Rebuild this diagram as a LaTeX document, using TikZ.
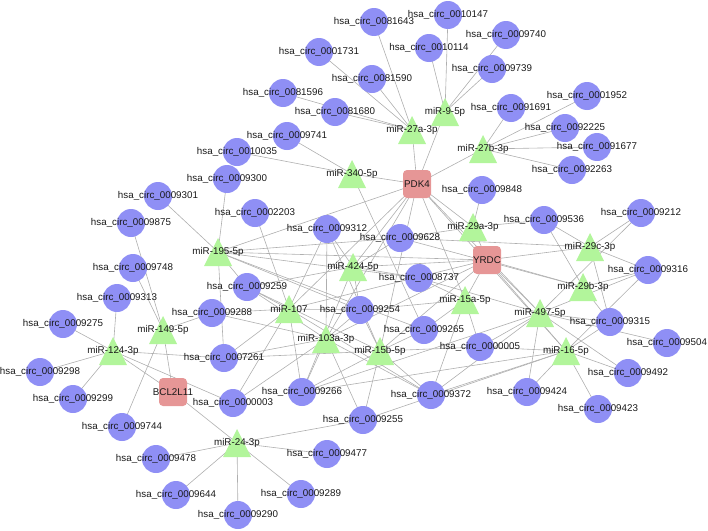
\documentclass[tikz,border=0pt]{standalone}
\usepackage{fontspec}
\setmainfont{Liberation Sans}
\pgfdeclarelayer{bg}
\pgfsetlayers{bg,main}
\definecolor{circfill}{RGB}{143,143,245}
\definecolor{mirfill}{RGB}{178,245,155}
\definecolor{genefill}{RGB}{230,150,150}
\definecolor{edgecol}{RGB}{175,175,175}
\newcommand\labfont{\fontsize{9.8}{11}\selectfont}
\tikzset{
  circ/.style={circle, fill=circfill, minimum size=28, inner sep=0pt},
  gene/.style={rectangle, rounded corners=4pt, fill=genefill, minimum size=28, inner sep=0pt},
  mirtri/.style={fill=mirfill},
  lab/.style={font=\labfont, text=black!90, inner sep=0pt},
  edge/.style={draw=edgecol, line width=0.6pt},
}
\begin{document}
\begin{tikzpicture}[x=1pt,y=-1pt]
\useasboundingbox (0,0) rectangle (708,530);
% circRNA shapes
\foreach \n/\x/\y in {
0010147/448/15, 0081643/374/22, 0010114/429/48, 0009740/506/35, 0001731/319/52,
0081590/372/79, 0009739/492/69, 0081596/283/93, 0081680/335/112, 0001952/587/96,
0091691/511/108, 0092225/565/128, 0091677/597/147, 0092263/572/170, 0009741/287/136,
0010035/237/152, 0009300/227/179, 0009301/158/196, 0009875/131/223, 0002203/255/213,
0009312/327/229, 0009628/400/238, 0009848/482/190, 0009536/544/220, 0009212/641/213,
0009748/133/268, 0009313/117/298, 0009275/63/324, 0009259/247/287, 0009288/212/313,
0008737/419/278, 0009254/360/310, 0009265/424/330, 0009316/648/270, 0009315/610/322,
0009504/667/343, 0007261/224/358, 0000005/480/347, 0009298/40/372, 0009299/73/399,
0009266/302/392, 0009372/431/395, 0009424/527/392, 0009492/628/373, 0009423/598/409,
0000003/233/403, 0009744/122/427, 0009255/363/420, 0009478/156/459, 0009477/327/454,
0009644/176/495, 0009289/301/494, 0009290/238/515}
{ \node[circ] (c\n) at (\x,\y) {}; }
% miRNA shapes
\foreach \n/\x/\y in {
m27a/412/130, m9/445/112, m27b/483/149, m340/352/174, m29a/473/227, m195/218/252,
m424/353/267, m29c/590/247, m29b/583/287, m15a/465/300, m107/289/309, m497/540/313,
m103/326/339, m15b/380/351, m149/163/330, m124/113/351, m16/566/351, m24/237/443}
{ \fill[mirtri, shift={(\x,\y)}] (0,-14) -- (14,14) -- (-14,14) -- cycle;
  \node[coordinate] (\n) at (\x,\y) {}; }
% gene shapes
\node[gene] (PDK4) at (417,184) {};
\node[gene] (YRDC) at (487,260) {};
\node[gene] (BCL2L11) at (173,392) {};
% circRNA labels
\foreach \n/\x/\y in {
0010147/448/15, 0081643/374/22, 0010114/429/48, 0009740/506/35, 0001731/319/52,
0081590/372/79, 0009739/492/69, 0081596/283/93, 0081680/335/112, 0001952/587/96,
0091691/511/108, 0092225/565/128, 0091677/597/147, 0092263/572/170, 0009741/287/136,
0010035/237/152, 0009300/227/179, 0009301/158/196, 0009875/131/223, 0002203/255/213,
0009312/327/229, 0009628/400/238, 0009848/482/190, 0009536/544/220, 0009212/641/213,
0009748/133/268, 0009313/117/298, 0009275/63/324, 0009259/247/287, 0009288/212/313,
0008737/419/278, 0009254/360/310, 0009265/424/330, 0009316/648/270, 0009315/610/322,
0009504/667/343, 0007261/224/358, 0000005/480/347, 0009298/40/372, 0009299/73/399,
0009266/302/392, 0009372/431/395, 0009424/527/392, 0009492/628/373, 0009423/598/409,
0000003/233/403, 0009744/122/427, 0009255/363/420, 0009478/156/459, 0009477/327/454,
0009644/176/495, 0009289/301/494, 0009290/238/515}
{ \node[lab] (t\n) at (\x,\y) {hsa\_circ\_\n}; }
% miRNA labels
\foreach \n/\x/\y/\t in {
m27a/412/130/miR-27a-3p, m9/445/112/miR-9-5p, m27b/483/149/miR-27b-3p,
m340/352/174/miR-340-5p, m29a/473/227/miR-29a-3p, m195/218/252/miR-195-5p,
m424/353/267/miR-424-5p, m29c/590/247/miR-29c-3p, m29b/583/287/miR-29b-3p,
m15a/465/300/miR-15a-5p, m107/289/309/miR-107, m497/540/313/miR-497-5p,
m103/326/339/miR-103a-3p, m15b/380/351/miR-15b-5p, m149/163/330/miR-149-5p,
m124/113/351/miR-124-3p, m16/566/351/miR-16-5p, m24/237/443/miR-24-3p}
{ \node[lab] (t\n) at (\x,\y) {\t}; }
% gene labels
\node[lab] (tPDK4) at (PDK4) {PDK4};
\node[lab] (tYRDC) at (YRDC) {YRDC};
\node[lab] (tBCL2L11) at (BCL2L11) {BCL2L11};
% edges
\begin{pgfonlayer}{bg}
\foreach \a/\b in {
m27a/c0081643, m27a/c0001731, m27a/c0081590, m27a/c0081596, m27a/c0081680, m27a/PDK4,
m9/c0010147, m9/c0010114, m9/c0009740, m9/c0009739, m9/PDK4,
m27b/c0091691, m27b/c0001952, m27b/c0092225, m27b/c0091677, m27b/c0092263, m27b/PDK4,
m340/c0010035, m340/c0009741, m340/PDK4, m340/c0009265,
m29a/c0009848, m29a/YRDC, m29a/PDK4, m29a/c0009628, m29a/c0009536,
m29c/c0009536, m29c/c0009212, m29c/c0009316, m29c/c0009315, m29c/YRDC, m29c/c0009628,
m29b/c0009536, m29b/c0009316, m29b/c0009315, m29b/YRDC, m29b/c0009628,
m195/c0009300, m195/c0009301, m195/c0009259, m195/c0007261, m195/c0009254, m195/c0008737,
m195/c0009628, m195/PDK4, m195/YRDC, m195/c0009265,
m149/c0009875, m149/c0009748, m149/c0009744, m149/c0009288, m149/BCL2L11,
m124/c0009313, m124/c0009275, m124/c0009298, m124/c0009299, m124/BCL2L11, m124/c0000003, m124/c0007261,
m24/c0009478, m24/c0009644, m24/c0009290, m24/c0009289, m24/c0009477, m24/c0009255, m24/BCL2L11,
m107/c0002203, m107/c0009259, m107/c0009288, m107/c0009312, m107/c0009254, m107/c0009266,
m107/c0007261, m107/c0000003, m107/c0009372, m107/PDK4, m107/YRDC,
m103/c0009259, m103/c0009288, m103/c0009312, m103/c0009254, m103/c0009266, m103/c0007261,
m103/c0000003, m103/c0009255, m103/c0009372, m103/PDK4, m103/YRDC,
m424/c0009312, m424/c0009628, m424/c0009259, m424/c0009254, m424/c0008737, m424/c0009266,
m424/PDK4, m424/YRDC,
m15b/c0009254, m15b/c0009265, m15b/c0009266, m15b/c0009255, m15b/c0009372, m15b/c0007261,
m15b/c0009259, m15b/c0000005, m15b/PDK4, m15b/YRDC, m15b/c0009312,
m15a/c0008737, m15a/c0009265, m15a/c0009254, m15a/c0009372, m15a/c0000005, m15a/PDK4, m15a/YRDC,
m497/c0000005, m497/c0009424, m497/c0009372, m497/c0009315, m497/c0009316, m497/c0009504,
m497/c0009492, m497/c0009212, m497/PDK4, m497/YRDC, m497/c0008737, m497/c0009266,
m16/c0000005, m16/c0009424, m16/c0009423, m16/c0009492, m16/c0009315, m16/c0009316,
m16/c0009372, m16/c0009266, m16/c0009255, m16/PDK4, m16/YRDC}
{ \draw[edge] (\a.center) -- (\b.center); }
\end{pgfonlayer}
\end{tikzpicture}
\end{document}
